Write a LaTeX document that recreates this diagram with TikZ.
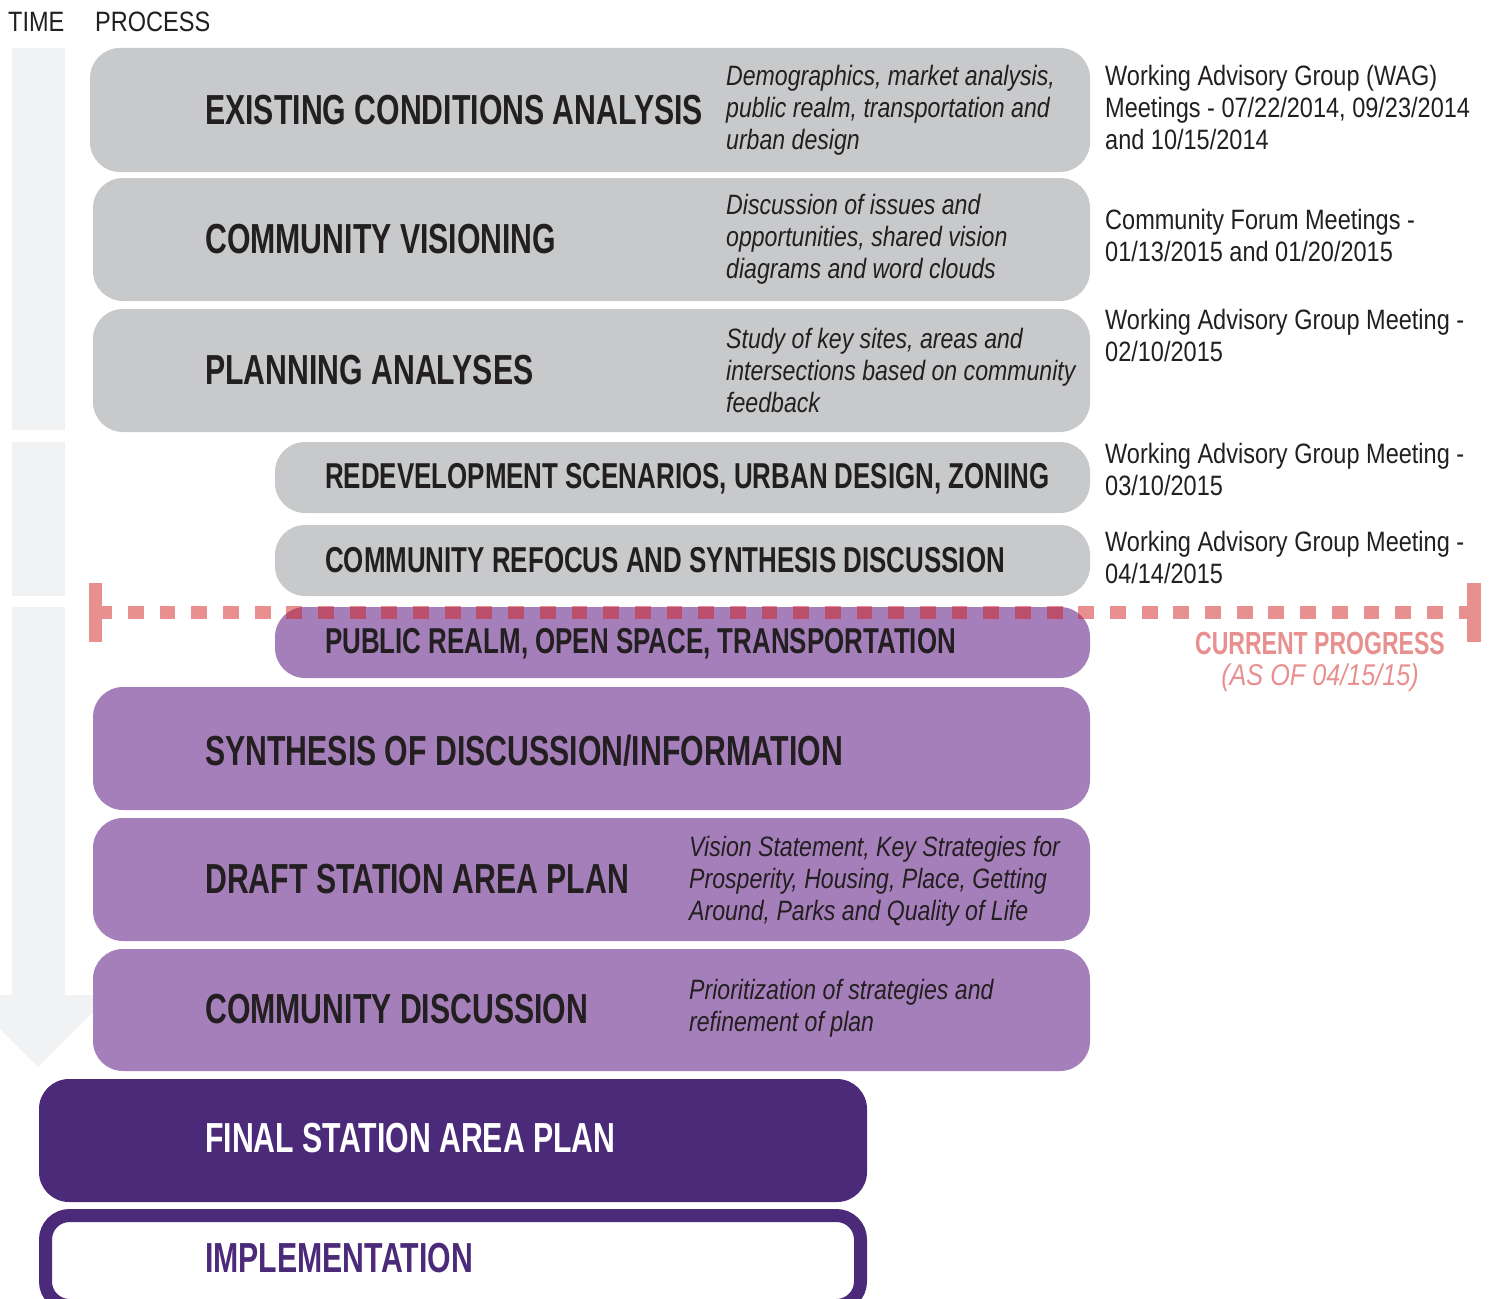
\documentclass[tikz,border=0pt]{standalone}
\usepackage{fontspec}
\setmainfont{Liberation Sans}[FakeStretch=0.84]
\newfontfamily\headfont{Liberation Sans}[FakeStretch=0.72]
\newfontfamily\descfont{Liberation Sans}[FakeStretch=0.825]

\definecolor{stagegray}{HTML}{C8C9CB}
\definecolor{stagelilac}{HTML}{A57FBA}
\definecolor{stageplum}{HTML}{4C2A7A}
\definecolor{timegray}{HTML}{F1F2F4}
\definecolor{progpink}{HTML}{E8908F}
\definecolor{progred}{RGB}{209,33,31}
\definecolor{ink}{HTML}{231F20}

\begin{document}
\begin{tikzpicture}[x=1pt, y=-1pt, stage/.style = {rounded corners=30pt, inner sep=0pt, outer sep=0pt, anchor=north west}, title/.style = {anchor=west, inner sep=0pt, text=ink, text height=30pt, text depth=0pt, font=\headfont\bfseries\fontsize{42}{42}\selectfont}, subtitle/.style = {title, text height=25pt, font=\headfont\bfseries\fontsize{36}{36}\selectfont}, desc/.style = {anchor=west, inner sep=0pt, align=left, text=ink, font=\descfont\itshape\fontsize{28}{32}\selectfont}, note/.style = {anchor=west, inner sep=0pt, align=left, text=ink, font=\fontsize{28}{32}\selectfont}]

    \useasboundingbox (0,0) rectangle (1490,1298);
    \clip (0,0) rectangle (1490,1298);

    % time axis
    \fill[timegray] (12,48) rectangle (65,430);
    \fill[timegray] (12,442) rectangle (65,596);
    \fill[timegray] (12,607) rectangle (65,996);
    \fill[timegray] (-34,995) -- (110,995) -- (38,1067) -- cycle;
    \node (time) [note] at (8,22) {TIME};
    \node (process) [note] at (95,22) {PROCESS};

    % stages
    \node (exist) [stage, fill=stagegray, minimum width=1000pt, minimum height=124pt] at (90,48) {};
    \node (vision) [stage, fill=stagegray, minimum width=997pt, minimum height=123pt] at (93,178) {};
    \node (analyses) [stage, fill=stagegray, minimum width=997pt, minimum height=123pt] at (93,309) {};
    \node (redev) [stage, fill=stagegray, minimum width=815pt, minimum height=71pt] at (275,442) {};
    \node (refocus) [stage, fill=stagegray, minimum width=815pt, minimum height=71pt] at (275,525) {};
    \node (realm) [stage, fill=stagelilac, minimum width=815pt, minimum height=71pt] at (275,607) {};
    \node (synth) [stage, fill=stagelilac, minimum width=997pt, minimum height=123pt] at (93,687) {};
    \node (draft) [stage, fill=stagelilac, minimum width=997pt, minimum height=123pt] at (93,818) {};
    \node (discuss) [stage, fill=stagelilac, minimum width=997pt, minimum height=122pt] at (93,949) {};
    \node (final) [stage, fill=stageplum, minimum width=828pt, minimum height=123pt] at (39,1079) {};
    \node (impl) [stage, rounded corners=24pt, draw=stageplum, line width=13pt, fill=white, minimum width=815pt, minimum height=90pt] at (45.5,1215.5) {};

    % stage titles
    \node (existT) [title] at (205,109) {EXISTING CONDITIONS ANALYSIS};
    \node (visionT) [title] at (205,238) {COMMUNITY VISIONING};
    \node (analysesT) [title] at (205,369) {PLANNING ANALYSES};
    \node (redevT) [subtitle] at (325,476) {REDEVELOPMENT SCENARIOS, URBAN DESIGN, ZONING};
    \node (refocusT) [subtitle] at (325,560) {COMMUNITY REFOCUS AND SYNTHESIS DISCUSSION};
    \node (realmT) [subtitle] at (325,641) {PUBLIC REALM, OPEN SPACE, TRANSPORTATION};
    \node (synthT) [title] at (205,750) {SYNTHESIS OF DISCUSSION/INFORMATION};
    \node (draftT) [title] at (205,878) {DRAFT STATION AREA PLAN};
    \node (discussT) [title] at (205,1008) {COMMUNITY DISCUSSION};
    \node (finalT) [title, text=white] at (205,1137) {FINAL STATION AREA PLAN};
    \node (implT) [title, text=stageplum] at (205,1257) {IMPLEMENTATION};

    % descriptions
    \node (existD) [desc] at (726,110) {Demographics, market analysis,\\public realm, transportation and\\urban design};
    \node (visionD) [desc] at (726,239) {Discussion of issues and\\opportunities, shared vision\\diagrams and word clouds};
    \node (analysesD) [desc] at (726,370) {Study of key sites, areas and\\intersections based on community\\feedback};
    \node (draftD) [desc] at (689,881) {Vision Statement, Key Strategies for\\Prosperity, Housing, Place, Getting\\Around, Parks and Quality of Life};
    \node (discussD) [desc] at (689,1008) {Prioritization of strategies and\\refinement of plan};

    % meetings
    \node (existN) [note] at (1105,107) {Working Advisory Group (WAG)\\Meetings - 07/22/2014, 09/23/2014\\and 10/15/2014};
    \node (visionN) [note] at (1105,235) {Community Forum Meetings -\\01/13/2015 and 01/20/2015};
    \node (analysesN) [note] at (1105,335) {Working Advisory Group Meeting -\\02/10/2015};
    \node (redevN) [note] at (1105,469) {Working Advisory Group Meeting -\\03/10/2015};
    \node (refocusN) [note] at (1105,557) {Working Advisory Group Meeting -\\04/14/2015};

    % current progress
    \coordinate (progL) at (102,612);
    \coordinate (progR) at (1467,612);
    \fill[progpink] (89,583) rectangle (102,642);
    \fill[progpink] (1467,583) rectangle (1481,642);
    \draw[progred, opacity=0.5, line width=13pt, dash pattern=on 15.8pt off 15.88pt, dash phase=5.7pt] (progL) -- (progR);
    \node (prog) [inner sep=0pt, text=progpink, font=\headfont\bfseries\fontsize{32}{32}\selectfont] at (1320,643) {CURRENT PROGRESS};
    \node (progdate) [inner sep=0pt, text=progpink, font=\itshape\fontsize{30}{30}\selectfont] at (1320,678) {(AS OF 04/15/15)};

\end{tikzpicture}
\end{document}
